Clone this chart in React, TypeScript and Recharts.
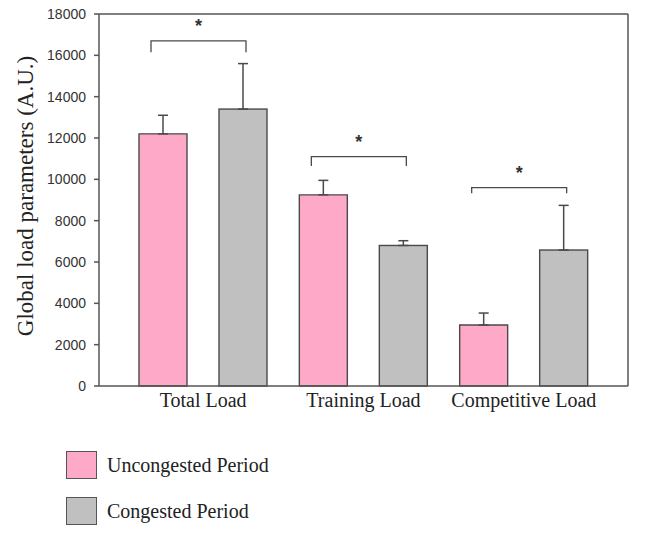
import { BarChart, Bar, XAxis, YAxis, ErrorBar, CartesianGrid } from 'recharts';

const categories = ['Total Load', 'Training Load', 'Competitive Load'];
const unconYes = [12200, 9250, 2950];
const unconSD = [900, 700, 580];
const congested = [13400, 6800, 6580];
const congSD = [2200, 230, 2160];
// significance brackets: top line and leg ends
const bracketTop = [16700, 11100, 9600];
const bracketLeg = [16150, 10650, 9330];
const yTicks = [0, 2000, 4000, 6000, 8000, 10000, 12000, 14000, 16000, 18000];
const seriesNames = ['Uncongested Period', 'Congested Period'];

const PINK = '#ffa9c8';
const GRAY = '#c0c0c0';
const EDGE = '#4a4a4a';
const SERIF = '"Liberation Serif", "Times New Roman", serif';
const SANS = '"Liberation Sans", Arial, sans-serif';

const data = categories.map((name, i) => ({
  name,
  uncon: unconYes[i],
  unconErr: [0, unconSD[i]],
  cong: congested[i],
  congErr: [0, congSD[i]],
  top: bracketTop[i],
  leg: bracketLeg[i],
}));

// gray bar + the significance bracket above its group
function CongestedShape(props: any) {
  const { x, y, width, height, payload } = props;
  const base = y + height;
  const k = height / payload.cong;
  const by = base - payload.top * k;
  const ly = base - payload.leg * k;
  const cx = x + width / 2;
  const x1 = cx - 92;
  const x2 = cx + 3;
  return (
    <g>
      <rect x={x} y={y} width={width} height={height} fill={GRAY} stroke={EDGE} strokeWidth={1.4} />
      <polyline points={`${x1},${ly} ${x1},${by} ${x2},${by} ${x2},${ly}`} fill="none" stroke={EDGE} strokeWidth={1.3} />
      <text x={(x1 + x2) / 2} y={by - 9} textAnchor="middle" fontFamily={SANS} fontWeight="bold" fontSize={18} fill="#333">*</text>
    </g>
  );
}

function YLabel(props: any) {
  const { viewBox } = props;
  const lx = 33;
  const ly = viewBox.y + viewBox.height / 2 - 4;
  return (
    <text x={lx} y={ly} transform={`rotate(-90, ${lx}, ${ly})`} textAnchor="middle" fontFamily={SERIF} fontSize={23} fill="#222">
      Global load parameters (A.U.)
    </text>
  );
}

export default function App() {
  return (
    <div style={{ position: 'absolute', left: 0, top: 0, width: 669, height: 544, background: '#fff' }}>
      <BarChart
        width={669}
        height={544}
        data={data}
        margin={{ top: 14, right: 41, left: 0, bottom: 128 }}
        barGap={32}
        barCategoryGap={16}
      >
        {/* top and right frame lines */}
        <CartesianGrid
          stroke="#555"
          strokeWidth={1.5}
          horizontalCoordinatesGenerator={({ offset }: any) => [offset.top]}
          verticalCoordinatesGenerator={({ offset }: any) => [offset.left + offset.width]}
        />
        <XAxis
          dataKey="name"
          padding={{ left: 24, right: 24 }}
          height={30}
          tickLine={false}
          tickSize={6}
          tickMargin={1}
          axisLine={{ stroke: '#555', strokeWidth: 1.5 }}
          tick={{ fontFamily: SERIF, fontSize: 20, fill: '#222' }}
        />
        <YAxis
          domain={[0, 18000]}
          ticks={yTicks}
          width={99}
          tickSize={5}
          tickMargin={8}
          interval={0}
          axisLine={{ stroke: '#555', strokeWidth: 1.5 }}
          tickLine={{ stroke: '#555', strokeWidth: 1.5 }}
          tick={{ fontFamily: SANS, fontSize: 14, fill: '#333' }}
          label={<YLabel />}
        />
        <Bar dataKey="uncon" name={seriesNames[0]} fill={PINK} stroke={EDGE} strokeWidth={1.4} isAnimationActive={false}>
          <ErrorBar dataKey="unconErr" direction="y" width={5} stroke={EDGE} strokeWidth={1.5} />
        </Bar>
        <Bar dataKey="cong" name={seriesNames[1]} fill={GRAY} stroke={EDGE} strokeWidth={1.4} shape={<CongestedShape />} isAnimationActive={false}>
          <ErrorBar dataKey="congErr" direction="y" width={5} stroke={EDGE} strokeWidth={1.5} />
        </Bar>
      </BarChart>
      {seriesNames.map((n, i) => (
        <div key={n} style={{ position: 'absolute', left: 66, top: 451 + i * 46, display: 'flex', alignItems: 'center', fontFamily: SERIF, fontSize: 20, color: '#222' }}>
          <div style={{ width: 29, height: 26, background: i === 0 ? PINK : GRAY, border: '1.5px solid #555', marginRight: 10 }} />
          <span>{n}</span>
        </div>
      ))}
    </div>
  );
}
